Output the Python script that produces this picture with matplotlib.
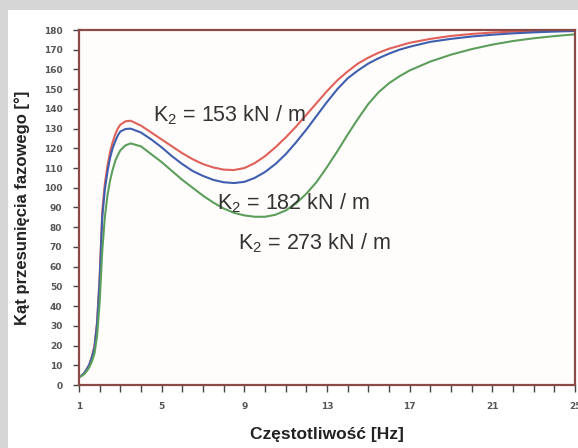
import numpy as np
import matplotlib
matplotlib.use("Agg")
import matplotlib.pyplot as plt
from matplotlib.patches import Rectangle

plt.rcParams['font.family'] = ['Liberation Sans', 'DejaVu Sans']
plt.rcParams['mathtext.fontset'] = 'custom'
plt.rcParams['mathtext.rm'] = 'Liberation Sans'

# czestotliwosc [Hz]
czest = [1, 1.125, 1.25, 1.375, 1.5, 1.625, 1.75, 1.875, 2, 2.125, 2.25, 2.375,
         2.5, 2.625, 2.75, 2.875, 3, 3.25, 3.5, 4, 4.5, 5, 5.5, 6, 6.5, 7, 7.5,
         8, 8.5, 9, 9.5, 10, 10.5, 11, 11.5, 12, 12.5, 13, 13.5, 14, 14.5, 15,
         15.5, 16, 16.5, 17, 18, 19, 20, 21, 22, 23, 24, 25]

# kat przesuniecia fazowego [deg] dla trzech sztywnosci K2
kat_153 = [4, 4.8, 6, 8, 10.5, 14.5, 20, 32, 55, 88, 102, 111, 118, 123, 127,
           130, 132, 133.7, 134,
           131.5, 128, 124.5, 121, 117.5, 114.5, 112, 110.3, 109.2, 109, 110,
           112.5, 116, 120.5, 125.5, 131, 137, 143, 149, 154.5, 159, 163, 166,
           168.5, 170.5, 172,
           173.5, 175.5, 177, 178, 178.7, 179.2, 179.5, 179.7, 180]
kat_182 = [4, 4.8, 6, 8, 10.3, 14, 19, 31, 53, 85, 99, 108, 115, 120, 123.5,
           126.5, 128.5, 129.8, 130,
           128, 124.5, 120.5, 116, 112, 108.5, 106, 104, 102.8, 102.4, 103, 105,
           108, 112, 117, 123, 129.5, 136.5, 143.5, 150, 155.5, 159.5, 163,
           165.7, 168, 170,
           171.5, 174, 175.5, 176.7, 177.6, 178.3, 178.8, 179.2, 179.5]
kat_273 = [4, 4.6, 5.5, 7, 9, 12, 16, 25, 42, 68, 85, 96, 103.5, 109, 113.5,
           116.5, 119, 121.5, 122.5,
           121, 117, 113, 108.5, 104, 100, 96, 92.5, 89.5, 87.3, 86, 85.3, 85.3,
           86.3, 88.5, 92, 97, 103, 110.5, 118.5, 127, 135, 142.5, 148.5, 153,
           156.5,
           159.5, 164, 167.5, 170.3, 172.6, 174.4, 175.8, 176.9, 177.8]

etykiety = ["K$_\\mathregular{2}$ = 153 kN / m",
            "K$_\\mathregular{2}$ = 182 kN / m",
            "K$_\\mathregular{2}$ = 273 kN / m"]
x_ticks = [1, 5, 9, 13, 17, 21, 25]
y_ticks = list(range(0, 181, 10))

fig = plt.figure(figsize=(5.78, 4.48), dpi=100)
fig.patch.set_facecolor('#d6d6d6')
# biale tlo pod wykresem
fig.patches.append(Rectangle((8 / 578, 0), 1, 1 - 10 / 448,
                             transform=fig.transFigure, facecolor='white',
                             edgecolor='none', zorder=-10))

ax = fig.add_axes([79 / 578, 1 - 385 / 448, 496 / 578, 355 / 448])
ax.set_facecolor('#fffdfc')

for kat, kol in [(kat_153, '#e0605a'), (kat_182, '#3f5fae'), (kat_273, '#5c9e5c')]:
    ax.plot(czest, kat, color=kol, lw=1.5, solid_joinstyle='round')

ax.set_xlim(1, 25)
ax.set_ylim(0, 180)
ax.set_xticks(x_ticks)
ax.set_xticks(range(1, 26), minor=True)
ax.set_yticks(y_ticks)

ax.tick_params(axis='both', which='both', direction='out', color='#444444',
               labelsize=6.5, labelcolor='#555555', width=1.0)
ax.tick_params(axis='x', which='both', length=5, pad=7)
ax.tick_params(axis='y', length=4, pad=8)
for lab in ax.get_xticklabels() + ax.get_yticklabels():
    lab.set_fontfamily(['Liberation Sans Narrow', 'DejaVu Sans'])
    lab.set_fontweight('bold')

for s in ax.spines.values():
    s.set_color('#8a4a48')
    s.set_linewidth(1.6)

ax.set_xlabel("Częstotliwość [Hz]", fontsize=12.5, fontweight='bold',
              color='#222222', labelpad=12)
ax.set_ylabel("Kąt przesunięcia fazowego [°]", fontsize=12, fontweight='bold',
              color='#222222', labelpad=10)

ax.text(4.6, 137, etykiety[0], fontsize=15.5, color='#333333', va='center')
ax.text(7.7, 92, etykiety[1], fontsize=15.5, color='#333333', va='center')
ax.text(8.7, 72, etykiety[2], fontsize=15.5, color='#333333', va='center')

fig.savefig("out.png", dpi=100, facecolor=fig.get_facecolor())
